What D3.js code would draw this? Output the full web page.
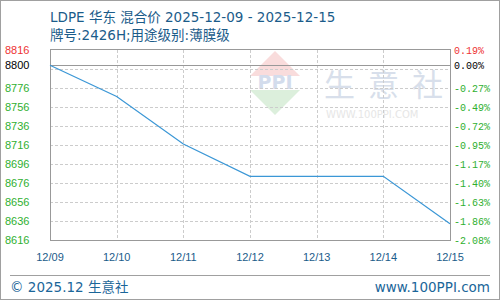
<!DOCTYPE html>
<html lang="zh">
<head>
    <meta charset="UTF-8">
    <title>LDPE 华东 混合价</title>
    <script src="https://d3js.org/d3.v7.min.js"></script>
    <style>
        body { margin: 0; background: #fff; }
        svg { display: block; }
        text { font-family: "DejaVu Sans", "Noto Sans CJK SC", sans-serif; }
    </style>
</head>
<body>
<div id="chart"></div>

<script>

    // data
    var dates = ["12/09", "12/10", "12/11", "12/12", "12/13", "12/14", "12/15"];
    var prices = [8800, 8767, 8717, 8683, 8683, 8683, 8633];
    var basePrice = 8800;

    // axis labels
    var leftTickValues = [8816, 8800, 8776, 8756, 8736, 8716, 8696, 8676, 8656, 8636, 8616];
    var rightTickLabels = ["0.19%", "0.00%", "-0.27%", "-0.49%", "-0.72%", "-0.95%",
        "-1.17%", "-1.40%", "-1.63%", "-1.86%", "-2.08%"];
    var gridValues = [8796, 8776, 8756, 8736, 8716, 8696, 8676, 8656, 8636];

    var titleText = "LDPE 华东 混合价 2025-12-09 - 2025-12-15";
    var subTitleText = "牌号:2426H;用途级别:薄膜级";
    var footLeft = "© 2025.12 生意社";
    var footRight = "www.100PPI.com";
    var markChars = ["生", "意", "社"];

    var width = 500;
    var height = 300;
    var plot = {left: 50, right: 450, top: 50, bottom: 240};

    var svg = d3.select("#chart")
        .append("svg")
        .attr("width", width)
        .attr("height", height);

    // outer frame
    svg.append("rect")
        .attr("x", 0.5).attr("y", 0.5)
        .attr("width", width - 1).attr("height", height - 1)
        .attr("fill", "#fff")
        .attr("stroke", "#a0a0a0");

    var x = d3.scalePoint()
        .domain(dates)
        .range([plot.left, plot.right]);

    var y = d3.scaleLinear()
        .domain([8616, 8816])
        .range([plot.bottom, plot.top]);

    // watermark
    var wm = svg.append("g").attr("class", "watermark");
    wm.append("path")
        .attr("d", "M275,51 L300,76 L250,76 Z")
        .attr("fill", "#f9dcdc");
    wm.append("path")
        .attr("d", "M250,90 L300,90 L275,115 Z")
        .attr("fill", "#dcefdc");
    wm.append("text")
        .attr("x", 275).attr("y", 89)
        .attr("text-anchor", "middle")
        .attr("font-family", "Liberation Serif")
        .attr("font-size", 19)
        .attr("font-weight", "bold")
        .attr("fill", "#d3dcec")
        .text("PPI");
    wm.selectAll("text.mark")
        .data(markChars)
        .enter()
        .append("text")
        .attr("class", "mark")
        .attr("x", function (d, i) { return 324 + i * 44; })
        .attr("y", 96)
        .attr("font-size", 31)
        .attr("fill", "#d8dfeb")
        .style("font-family", "'Noto Sans CJK SC'")
        .text(function (d) { return d; });
    wm.append("text")
        .attr("x", 326).attr("y", 118)
        .attr("font-size", 10)
        .attr("fill", "#e6e6e6")
        .text("WWW.100PPI.COM");

    // grid
    svg.selectAll("line.hgrid")
        .data(gridValues)
        .enter()
        .append("line")
        .attr("class", "hgrid")
        .attr("x1", plot.left).attr("x2", plot.right)
        .attr("y1", function (d) { return Math.round(y(d)) + 0.5; })
        .attr("y2", function (d) { return Math.round(y(d)) + 0.5; })
        .attr("stroke", "#cccccc")
        .attr("stroke-dasharray", "3,2");

    svg.selectAll("line.vgrid")
        .data(dates.slice(1, -1))
        .enter()
        .append("line")
        .attr("class", "vgrid")
        .attr("x1", function (d) { return Math.round(x(d)) + 0.5; })
        .attr("x2", function (d) { return Math.round(x(d)) + 0.5; })
        .attr("y1", plot.top).attr("y2", plot.bottom)
        .attr("stroke", "#cccccc")
        .attr("stroke-dasharray", "3,2");

    // base line
    svg.append("line")
        .attr("x1", plot.left).attr("x2", plot.right)
        .attr("y1", Math.round(y(basePrice)) + 0.5)
        .attr("y2", Math.round(y(basePrice)) + 0.5)
        .attr("stroke", "#999999");

    // plot frame
    svg.append("rect")
        .attr("x", plot.left + 0.5).attr("y", plot.top - 0.5)
        .attr("width", plot.right - plot.left)
        .attr("height", plot.bottom - plot.top + 1)
        .attr("fill", "none")
        .attr("stroke", "#999999");

    // price line
    var line = d3.line()
        .x(function (d, i) { return x(dates[i]); })
        .y(function (d) { return y(d); });

    svg.append("path")
        .datum(prices)
        .attr("d", line)
        .attr("fill", "none")
        .attr("stroke", "#3b97d6")
        .attr("stroke-width", 1.2);

    function tickColor(v) {
        if (v > basePrice) return "#ee3333";
        if (v === basePrice) return "#000000";
        return "#2fb02f";
    }

    // left axis labels
    svg.selectAll("text.left")
        .data(leftTickValues)
        .enter()
        .append("text")
        .attr("class", "left")
        .attr("x", 5)
        .attr("y", function (d) { return y(d); })
        .attr("dy", "0.35em")
        .attr("font-size", 11)
        .attr("fill", tickColor)
        .style("font-family", "'Liberation Sans'")
        .text(function (d) { return d; });

    // right axis labels
    svg.selectAll("text.right")
        .data(leftTickValues)
        .enter()
        .append("text")
        .attr("class", "right")
        .attr("x", 454)
        .attr("y", function (d) { return y(d); })
        .attr("dy", "0.35em")
        .attr("font-size", 10)
        .attr("fill", tickColor)
        .style("font-family", "'Liberation Mono'")
        .text(function (d, i) { return rightTickLabels[i]; });

    // x labels
    svg.selectAll("text.xlab")
        .data(dates)
        .enter()
        .append("text")
        .attr("class", "xlab")
        .attr("x", function (d) { return x(d); })
        .attr("y", 261)
        .attr("text-anchor", "middle")
        .attr("font-size", 11)
        .attr("fill", "#1b5c8a")
        .style("font-family", "'Liberation Sans'")
        .text(function (d) { return d; });

    // titles
    svg.append("text")
        .attr("x", 50).attr("y", 22)
        .attr("font-size", 13.5)
        .attr("fill", "#1b5c8a")
        .text(titleText);

    svg.append("text")
        .attr("x", 50).attr("y", 40)
        .attr("font-size", 13.5)
        .attr("fill", "#1b5c8a")
        .text(subTitleText);

    // footer
    svg.append("line")
        .attr("x1", 10).attr("x2", 490)
        .attr("y1", 275.5).attr("y2", 275.5)
        .attr("stroke", "#a0a0a0");

    svg.append("text")
        .attr("x", 10).attr("y", 292)
        .attr("font-size", 13.5)
        .attr("fill", "#1b6699")
        .text(footLeft);

    svg.append("text")
        .attr("x", 490).attr("y", 292)
        .attr("text-anchor", "end")
        .attr("font-size", 13.5)
        .attr("fill", "#1b6699")
        .text(footRight);

</script>
</body>
</html>
